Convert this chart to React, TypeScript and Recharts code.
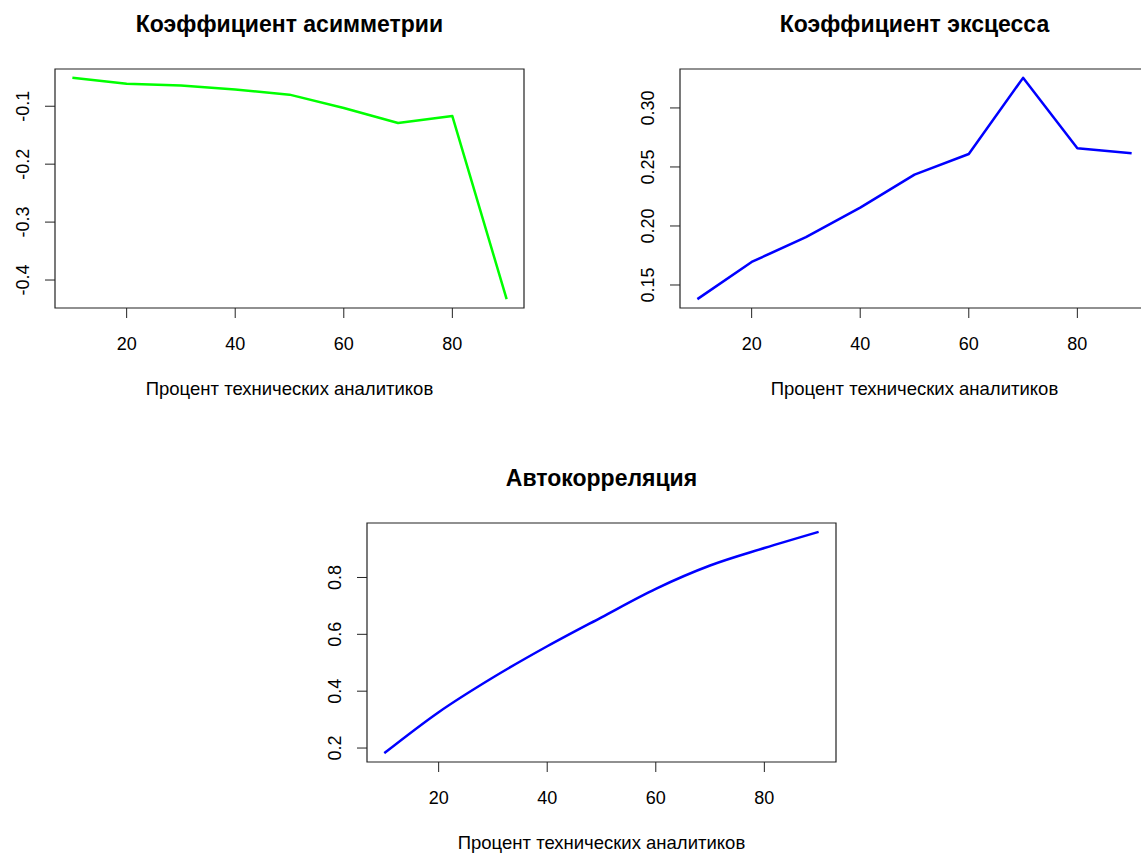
import { LineChart, Line, XAxis, YAxis, ReferenceArea } from "recharts";

const PCT = [10, 20, 30, 40, 50, 60, 70, 80, 90];
const SKEWNESS = [-0.051, -0.061, -0.064, -0.071, -0.08, -0.103, -0.129, -0.117, -0.433];
const KURTOSIS = [0.138, 0.1695, 0.1905, 0.2155, 0.2435, 0.261, 0.3255, 0.2658, 0.2616];
const AUTOCORR = [0.182, 0.326, 0.448, 0.558, 0.66, 0.76, 0.842, 0.9035, 0.9605];

const X_TICKS = [20, 40, 60, 80];
const SKEW_TICKS = [-0.4, -0.3, -0.2, -0.1];
const KURT_TICKS = [0.15, 0.2, 0.25, 0.3];
const ACF_TICKS = [0.2, 0.4, 0.6, 0.8];

const X_LABEL = "Процент технических аналитиков";

const W = 560;
const H = 420;
const MARGIN = { top: 69, right: 36, bottom: 52, left: 0 };
const Y_AXIS_W = 55;
const X_AXIS_H = 60;
const PLOT_W = W - MARGIN.right - Y_AXIS_W;
const PLOT_BOTTOM = H - MARGIN.bottom - X_AXIS_H;
const FONT = "'Liberation Sans', Arial, sans-serif";

// same 4% padding R puts on each side of the data range
function padded(values: number[]): [number, number] {
  const lo = Math.min(...values);
  const hi = Math.max(...values);
  const pad = (hi - lo) * 0.04;
  return [lo - pad, hi + pad];
}

function RotatedTick({ x, y, payload, digits }: any) {
  return (
    <text
      x={x}
      y={y}
      transform={`rotate(-90 ${x} ${y})`}
      textAnchor="middle"
      fontSize={18}
      fill="#000"
    >
      {Number(payload.value).toFixed(digits)}
    </text>
  );
}

type PanelProps = {
  left: number;
  top: number;
  title: string;
  values: number[];
  color: string;
  yTicks: number[];
  digits: number;
  smooth?: boolean;
};

function Panel({ left, top, title, values, color, yTicks, digits, smooth }: PanelProps) {
  const data = PCT.map((x, i) => ({ x, y: values[i] }));
  const xDomain = padded(PCT);
  const yDomain = padded(values);

  return (
    <div style={{ position: "absolute", left, top, width: W, height: H }}>
      <div
        style={{
          position: "absolute",
          left: Y_AXIS_W,
          top: 13,
          width: PLOT_W,
          textAlign: "center",
          fontSize: 23,
          lineHeight: "23px",
          fontWeight: "bold",
          whiteSpace: "nowrap",
        }}
      >
        {title}
      </div>
      <LineChart width={W} height={H} data={data} margin={MARGIN}>
        <XAxis
          dataKey="x"
          type="number"
          domain={xDomain}
          ticks={X_TICKS}
          interval={0}
          height={X_AXIS_H}
          axisLine={false}
          tickSize={10}
          tickMargin={19}
          tickLine={{ stroke: "#222" }}
          tick={{ fontSize: 18, fill: "#000" }}
        />
        <YAxis
          type="number"
          domain={yDomain}
          ticks={yTicks}
          interval={0}
          width={Y_AXIS_W}
          axisLine={false}
          tickSize={10}
          tickMargin={16}
          tickLine={{ stroke: "#222" }}
          tick={(props: any) => <RotatedTick {...props} digits={digits} />}
        />
        <ReferenceArea
          x1={xDomain[0]}
          x2={xDomain[1]}
          y1={yDomain[0]}
          y2={yDomain[1]}
          fill="none"
          stroke="#222"
          strokeWidth={1.2}
          ifOverflow="visible"
        />
        <Line
          type={smooth ? "monotone" : "linear"}
          dataKey="y"
          stroke={color}
          strokeWidth={2.5}
          strokeLinejoin="round"
          dot={false}
          activeDot={false}
          isAnimationActive={false}
        />
      </LineChart>
      <div
        style={{
          position: "absolute",
          left: Y_AXIS_W,
          top: PLOT_BOTTOM + 72,
          width: PLOT_W,
          textAlign: "center",
          fontSize: 18.5,
          lineHeight: "18.5px",
          whiteSpace: "nowrap",
        }}
      >
        {X_LABEL}
      </div>
    </div>
  );
}

export default function App() {
  return (
    <div
      style={{
        position: "absolute",
        left: 0,
        top: 0,
        width: 1141,
        height: 854,
        overflow: "hidden",
        background: "#fff",
        fontFamily: FONT,
        color: "#000",
      }}
    >
      <Panel
        left={0}
        top={0}
        title="Коэффициент асимметрии"
        values={SKEWNESS}
        color="#00ff00"
        yTicks={SKEW_TICKS}
        digits={1}
      />
      <Panel
        left={625}
        top={0}
        title="Коэффициент эксцесса"
        values={KURTOSIS}
        color="#0000ff"
        yTicks={KURT_TICKS}
        digits={2}
      />
      <Panel
        left={312}
        top={453.5}
        title="Автокорреляция"
        values={AUTOCORR}
        color="#0000ff"
        yTicks={ACF_TICKS}
        digits={1}
        smooth
      />
    </div>
  );
}
